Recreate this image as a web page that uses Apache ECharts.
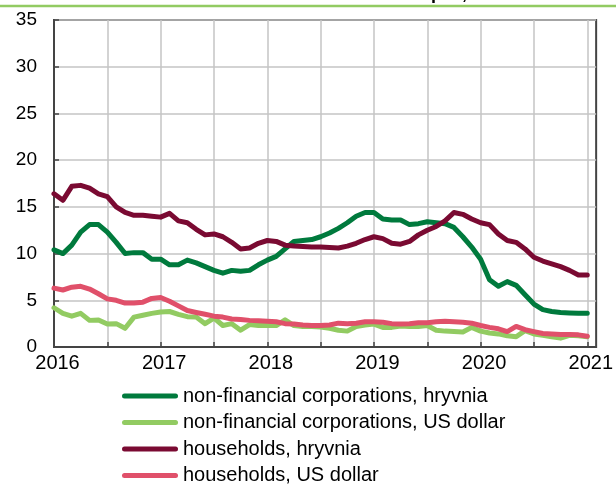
<!DOCTYPE html>
<html>
<head>
<meta charset="utf-8">
<script src="https://cdn.jsdelivr.net/npm/echarts@6/dist/echarts.min.js"></script>
<style>
html,body{margin:0;padding:0;background:#fff;}
#chart{width:616px;height:484px;}
</style>
</head>
<body>
<div id="chart"></div>
<script>
// Monthly categories Jan 2016 .. Feb 2021 (last one is only axis padding)
const months = [];
for (let y = 2016; y <= 2021; y++) {
  for (let m = 1; m <= 12; m++) {
    if (y === 2021 && m > 2) break;
    months.push(y + '-' + (m < 10 ? '0' + m : m));
  }
}

const seriesNames = [
  'non-financial corporations, hryvnia',
  'non-financial corporations, US dollar',
  'households, hryvnia',
  'households, US dollar'
];

const nfcUAH = [10.4, 10.0, 10.9, 12.3, 13.1, 13.1, 12.3, 11.2, 10.0, 10.1, 10.1, 9.4,
  9.4, 8.8, 8.8, 9.3, 9.0, 8.6, 8.2, 7.9, 8.2, 8.1, 8.2, 8.8,
  9.3, 9.7, 10.5, 11.3, 11.4, 11.5, 11.8, 12.2, 12.7, 13.3, 14.0, 14.4,
  14.4, 13.7, 13.6, 13.6, 13.1, 13.2, 13.4, 13.3, 13.2, 12.8, 11.8, 10.7,
  9.4, 7.2, 6.5, 7.0, 6.6, 5.6, 4.6, 4.0, 3.8, 3.7, 3.65, 3.6, 3.6];

const nfcUSD = [4.2, 3.6, 3.3, 3.6, 2.85, 2.9, 2.45, 2.5, 2.0, 3.2, 3.4, 3.6,
  3.75, 3.8, 3.5, 3.25, 3.2, 2.5, 3.1, 2.3, 2.5, 1.8, 2.4, 2.3,
  2.3, 2.3, 2.9, 2.3, 2.2, 2.2, 2.15, 2.0, 1.8, 1.7, 2.2, 2.35,
  2.45, 2.1, 2.1, 2.25, 2.2, 2.2, 2.3, 1.8, 1.7, 1.65, 1.6, 2.1,
  1.7, 1.5, 1.4, 1.2, 1.1, 1.75, 1.4, 1.25, 1.1, 0.95, 1.25, 1.2, 1.1];

const hhUAH = [16.4, 15.7, 17.2, 17.3, 17.0, 16.4, 16.1, 15.0, 14.4, 14.1, 14.1, 14.0,
  13.9, 14.3, 13.5, 13.3, 12.6, 12.0, 12.1, 11.8, 11.2, 10.5, 10.6, 11.1,
  11.4, 11.3, 10.9, 10.8, 10.75, 10.7, 10.7, 10.65, 10.6, 10.8, 11.1, 11.5,
  11.8, 11.6, 11.1, 11.0, 11.3, 12.0, 12.5, 12.9, 13.5, 14.4, 14.2, 13.7,
  13.3, 13.1, 12.1, 11.4, 11.2, 10.5, 9.6, 9.2, 8.9, 8.6, 8.2, 7.7, 7.7];

const hhUSD = [6.3, 6.1, 6.4, 6.5, 6.2, 5.7, 5.15, 5.0, 4.7, 4.7, 4.8, 5.2,
  5.3, 4.9, 4.4, 3.9, 3.7, 3.5, 3.3, 3.2, 3.0, 2.95, 2.85, 2.8,
  2.75, 2.7, 2.5, 2.45, 2.35, 2.3, 2.3, 2.35, 2.55, 2.5, 2.55, 2.7,
  2.7, 2.65, 2.5, 2.45, 2.5, 2.6, 2.6, 2.7, 2.75, 2.7, 2.65, 2.55,
  2.3, 2.1, 1.95, 1.65, 2.2, 1.85, 1.65, 1.45, 1.4, 1.35, 1.35, 1.3, 1.15];

const colors = ['#007A3D', '#92CB62', '#7A0A32', '#E0506A'];
const seriesData = [nfcUAH, nfcUSD, hhUAH, hhUSD];

const capsule = 'path://M2.5,0 H53.5 A2.5,2.5 0 0 1 53.5,5 H2.5 A2.5,2.5 0 0 1 2.5,0 Z';

const chart = echarts.init(document.getElementById('chart'), null, {renderer: 'canvas'});
chart.setOption({
  animation: false,
  backgroundColor: '#fff',
  textStyle: {fontFamily: 'Liberation Sans, Arial, sans-serif'},
  graphic: [
    {type: 'line', shape: {x1: 0, y1: 6, x2: 616, y2: 6}, style: {stroke: '#92CB62', lineWidth: 2.5}},
    {type: 'text', left: 431, top: -15, style: {text: 'p.a.,', fontSize: 18, fontWeight: 'bold', fill: '#000', fontFamily: 'Liberation Sans, Arial, sans-serif'}}
  ],
  grid: {left: 54, right: 18, top: 20, bottom: 137, show: true, borderColor: '#444', borderWidth: 2, backgroundColor: 'transparent'},
  legend: {
    orient: 'vertical', left: 122, top: 386, height: 160, padding: 0, itemGap: 6.5,
    itemWidth: 56, itemHeight: 5,
    textStyle: {fontSize: 20, color: '#000', lineHeight: 20, fontFamily: 'Liberation Sans, Arial, sans-serif'},
    data: seriesNames.map(function (n) { return {name: n, icon: capsule}; })
  },
  xAxis: {
    type: 'category', boundaryGap: false, data: months,
    axisLine: {show: true, lineStyle: {color: '#444', width: 2}},
    axisTick: {show: true, inside: true, length: 5, interval: 5, lineStyle: {color: '#444', width: 1.5}},
    splitLine: {show: true, interval: 5, lineStyle: {color: '#C4C4C4', width: 1.5}},
    axisLabel: {
      interval: 11, fontSize: 20, color: '#000', margin: 6, padding: [0, 0, 0, 7],
      formatter: function (v) { return v.slice(0, 4); }
    }
  },
  yAxis: {
    type: 'value', min: 0, max: 35, interval: 5,
    axisLine: {show: true, lineStyle: {color: '#444', width: 2}},
    axisTick: {show: true, inside: true, length: 5, lineStyle: {color: '#444', width: 1.5}},
    splitLine: {show: true, lineStyle: {color: '#C4C4C4', width: 1.5}},
    axisLabel: {fontSize: 19, color: '#000', margin: 17}
  },
  series: seriesNames.map(function (n, k) {
    return {
      name: n, type: 'line', data: seriesData[k], symbol: 'none',
      lineStyle: {color: colors[k], width: 5, cap: 'round', join: 'round'},
      itemStyle: {color: colors[k]}
    };
  })
});
</script>
</body>
</html>
